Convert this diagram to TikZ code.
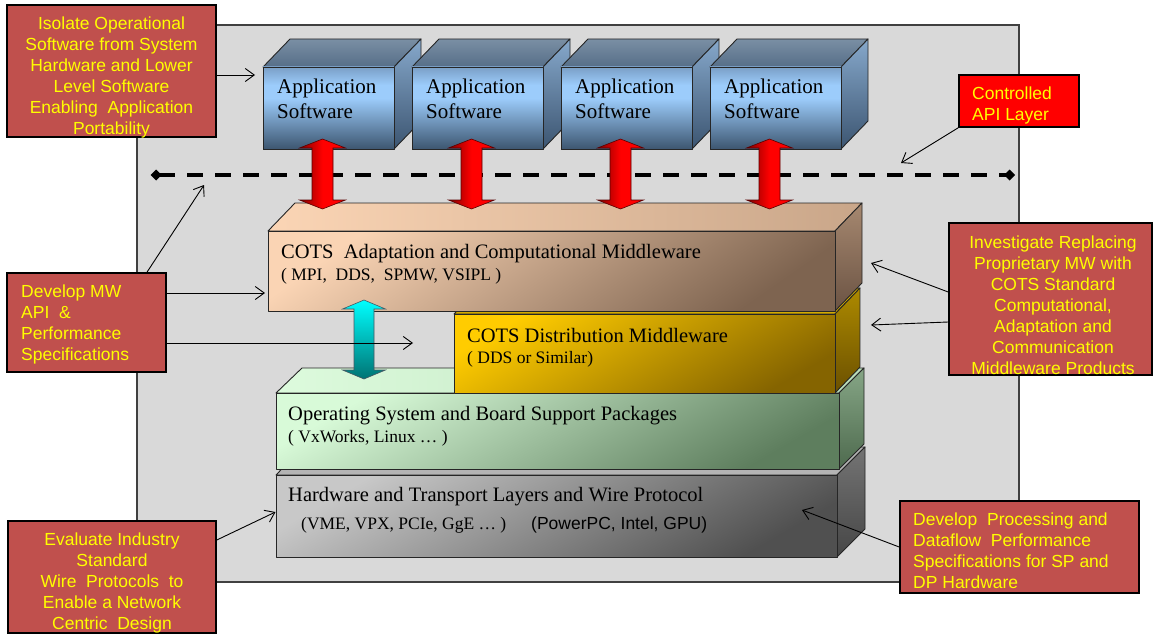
\documentclass[tikz,border=0pt]{standalone}
\usepackage{fontspec}
\setmainfont{Liberation Serif}
\newfontfamily\arialfont{Liberation Sans}
\usetikzlibrary{arrows.meta}
\definecolor{bggray}{HTML}{D9D9D9}
\definecolor{callred}{HTML}{C0504D}
\definecolor{apiRed}{HTML}{FF0000}
\definecolor{txtyellow}{HTML}{FFFF00}
% application boxes
\definecolor{appFrontT}{HTML}{7A9FC6}
\definecolor{appFrontM}{HTML}{9CCCFB}
\definecolor{appFrontB}{HTML}{3D5670}
\definecolor{appTopT}{HTML}{7A8FA4}
\definecolor{appTopB}{HTML}{566E88}
\definecolor{appSideT}{HTML}{86A8CB}
\definecolor{appSideB}{HTML}{3C5571}
\pgfdeclareverticalshading{appfrontshade}{100bp}{color(0bp)=(appFrontB); color(25bp)=(appFrontB); color(56bp)=(appFrontM); color(64bp)=(appFrontM); color(75bp)=(appFrontT); color(100bp)=(appFrontT)}
% layers
\definecolor{adFrontL}{HTML}{FAD4B4}
\definecolor{adFrontD}{HTML}{7E6450}
\definecolor{adTopL}{HTML}{FBD5B5}
\definecolor{adTopR}{HTML}{C9A689}
\definecolor{adSideT}{HTML}{A68870}
\definecolor{adSideB}{HTML}{6B5343}
\definecolor{diFrontL}{HTML}{FFCC00}
\definecolor{diFrontD}{HTML}{856400}
\definecolor{diTop}{HTML}{D4AA00}
\definecolor{diSideT}{HTML}{AD8A00}
\definecolor{diSideB}{HTML}{6B5000}
\definecolor{osFrontL}{HTML}{D8FAD8}
\definecolor{osFrontD}{HTML}{5E7E5E}
\definecolor{osTopL}{HTML}{DDFBDD}
\definecolor{osTopR}{HTML}{B8DCB8}
\definecolor{osSideT}{HTML}{86A686}
\definecolor{osSideB}{HTML}{4E6A4E}
\definecolor{hwFrontL}{HTML}{C8C8C8}
\definecolor{hwFrontD}{HTML}{505050}
\definecolor{hwTop}{HTML}{B4B4B4}
\definecolor{hwSideT}{HTML}{747474}
\definecolor{hwSideB}{HTML}{464646}
\begin{document}
\begin{tikzpicture}[x=1pt,y=-1pt,
  panel/.style={draw=black!75, line width=1.2pt, fill=bggray, inner sep=0},
  callout/.style={draw=black, line width=1.6pt, fill=callred, inner sep=0},
  ctext/.style={text=txtyellow, font=\arialfont\fontsize{17.5}{21}\selectfont, inner sep=0},
  callarrow/.style={-{Straight Barb[length=9pt,width=13pt]}, line width=0.9pt, draw=black},
  face/.style={draw=black!85, line width=0.9pt, line join=round},
  apptext/.style={font=\fontsize{21}{25}\selectfont, inner sep=0, align=left, anchor=north west},
  layertitle/.style={font=\fontsize{20.5}{25}\selectfont, inner sep=0, anchor=base west},
  layersub/.style={font=\fontsize{17.5}{21}\selectfont, inner sep=0, anchor=base west},
  apiline/.style={line width=3.5pt, dash pattern=on 16pt off 12pt, {Diamond[length=11pt,width=11pt]}-{Diamond[length=11pt,width=11pt]}},
  redarr/.style={draw=red!35!black, line width=0.6pt, line join=miter, left color=red!50!black, right color=red, middle color=red},
  cyanarr/.style={draw=cyan!30!black, line width=0.6pt, line join=miter, top color=cyan, bottom color=cyan!45!black}
]
\useasboundingbox (0,0) rectangle (1154,634);
\fill[white] (0,0) rectangle (1154,634);

% background panel
\node[panel, minimum width=882pt, minimum height=557pt] (panel) at (578,303.5) {};

% application software boxes
\foreach \i/\x in {1/263,2/412,3/561,4/710} {
  \path[face, top color=appTopT, bottom color=appTopB] (\x,67) -- (\x+27,39) -- (\x+158,39) -- (\x+131,67) -- cycle;
  \path[face, top color=appSideT, bottom color=appSideB] (\x+131,67) -- (\x+158,39) -- (\x+158,121) -- (\x+131,149) -- cycle;
  \path[face, shading=appfrontshade] (\x,67) rectangle (\x+131,149);
  \node[apptext] (app\i) at (\x+14,78.7) {Application\\Software};
}

% hardware layer
\path[face, fill=hwTop] (276,475) -- (303,447) -- (865,447) -- (837,475) -- cycle;
\path[face, top color=hwSideT, bottom color=hwSideB] (837,475) -- (865,447) -- (865,529) -- (837,557) -- cycle;
\path[face, top color=hwFrontL, bottom color=hwFrontD, shading angle=30] (276,475) rectangle (837,557);

% operating system layer
\path[face, left color=osTopL, right color=osTopR] (276,393) -- (302,368) -- (864,368) -- (839,393) -- cycle;
\path[face, top color=osSideT, bottom color=osSideB] (839,393) -- (864,368) -- (864,444) -- (839,469) -- cycle;
\path[face, top color=osFrontL, bottom color=osFrontD, shading angle=30] (276,393) rectangle (839,469);

% distribution middleware layer
\path[face, fill=diTop] (454,314) -- (481,288) -- (860,288) -- (835,314) -- cycle;
\path[face, top color=diSideT, bottom color=diSideB] (835,314) -- (860,288) -- (860,367) -- (835,393) -- cycle;
\path[face, top color=diFrontL, bottom color=diFrontD, shading angle=30] (454,314) rectangle (835,393);

% adaptation middleware layer
\path[face, left color=adTopL, right color=adTopR] (268,231) -- (295,203) -- (862,203) -- (835,231) -- cycle;
\path[face, top color=adSideT, bottom color=adSideB] (835,231) -- (862,203) -- (862,283) -- (835,311) -- cycle;
\path[face, top color=adFrontL, bottom color=adFrontD, shading angle=35] (268,231) rectangle (835,311);

% layer texts
\node[layertitle] (adtitle) at (281,258) {COTS\ \ Adaptation and Computational Middleware};
\node[layersub] (adsub) at (281,280) {( MPI,\ \ DDS,\ \ SPMW, VSIPL )};
\node[layertitle] (dititle) at (467,342) {COTS Distribution Middleware};
\node[layersub] (disub) at (467,363) {( DDS or Similar)};
\node[layertitle] (ostitle) at (288,420) {Operating System and Board Support Packages};
\node[layersub] (ossub) at (288,442) {( VxWorks, Linux … )};
\node[layertitle] (hwtitle) at (288,501) {Hardware and Transport Layers and Wire Protocol};
\node[layersub] (hwsub) at (301,529) {(VME, VPX, PCIe, GgE … )};
\node[layersub, font=\arialfont\fontsize{17.5}{21}\selectfont] (hwsubb) at (531,529) {(PowerPC, Intel, GPU)};

% controlled API layer line
\coordinate (dl) at (150.5,175);
\coordinate (dr) at (1015,175);
\draw[apiline] (dl) -- (dr);

% red double arrows
\foreach \cx in {322.5,471.5,620.5,769.5} {
  \path[redarr] (\cx,139) -- ++(23,9) -- ++(-12.5,0) -- ++(0,52) -- ++(12.5,0) -- ++(-23,9)
     -- ++(-23,-9) -- ++(12.5,0) -- ++(0,-52) -- ++(-12.5,0) -- cycle;
}
% cyan double arrow
\path[cyanarr] (364,300) -- ++(21.5,9) -- ++(-11.5,0) -- ++(0,61) -- ++(11.5,0) -- ++(-21.5,9)
   -- ++(-21.5,-9) -- ++(11.5,0) -- ++(0,-61) -- ++(-11.5,0) -- cycle;

% callouts
\node[callout, minimum width=209pt, minimum height=132pt] (iso) at (111.5,71) {};
\node[ctext, align=center] (isotext) at (111.5,77.6) {Isolate Operational\\Software from System\\Hardware and Lower\\Level Software\\Enabling\ \ Application\\Portability};

\node[callout, fill=apiRed, minimum width=120pt, minimum height=52pt] (api) at (1019,101) {};
\node[ctext, align=left, anchor=west] (apitext) at (972,105.9) {Controlled\\API Layer};

\node[callout, minimum width=159pt, minimum height=99pt] (dmw) at (86.5,322.5) {};
\node[ctext, align=left, anchor=west] (dmwtext) at (21,324.7) {Develop MW\\API\ \ \&\\Performance\\Specifications};

\node[callout, minimum width=203pt, minimum height=152pt] (inv) at (1050.5,299) {};
\node[ctext, align=center] (invtext) at (1053,305) {Investigate Replacing\\Proprietary MW with\\COTS Standard\\Computational,\\Adaptation and\\Communication\\Middleware Products};

\node[callout, minimum width=239pt, minimum height=92pt] (dpp) at (1019.5,547) {};
\node[ctext, align=left, anchor=west] (dpptext) at (913,550.4) {Develop\ \ Processing and\\Dataflow\ \ Performance\\Specifications for SP and\\DP Hardware};

\node[callout, minimum width=208pt, minimum height=112pt] (evl) at (112,577) {};
\node[ctext, align=center] (evltext) at (112,582.6) {Evaluate Industry\\Standard\\Wire\ \ Protocols\ \ to\\Enable a Network\\Centric\ \ Design};

% callout arrows
\coordinate (isotip) at (255,75);
\draw[callarrow] (iso.east |- isotip) -- (isotip);
\coordinate (apitip) at (901,163);
\draw[callarrow] (api.south west) -- (apitip);
\coordinate (dmwtipA) at (204,185);
\draw[callarrow] ([xshift=60.5pt]dmw.north) -- (dmwtipA);
\coordinate (dmwtipB) at (265,293);
\draw[callarrow] (dmw.east |- dmwtipB) -- (dmwtipB);
\coordinate (dmwtipC) at (413,343);
\draw[callarrow] (dmw.east |- dmwtipC) -- (dmwtipC);
\coordinate (invtipA) at (871,263);
\draw[callarrow] ([yshift=7pt]inv.west) -- (invtipA);
\coordinate (invtipB) at (871,325);
\draw[callarrow] ([yshift=-23pt]inv.west) -- (invtipB);
\coordinate (dpptip) at (802,510);
\draw[callarrow] (dpp.west) -- (dpptip);
\coordinate (evltip) at (275.5,512);
\draw[callarrow] ([yshift=37pt]evl.east) -- (evltip);
\end{tikzpicture}
\end{document}
